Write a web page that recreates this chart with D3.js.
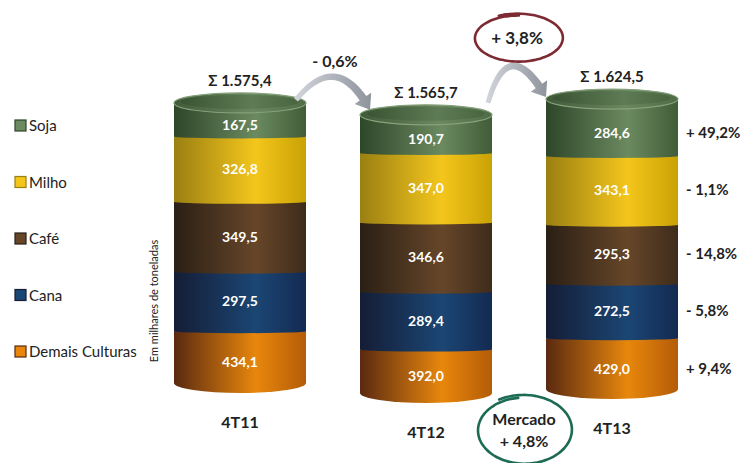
<!DOCTYPE html>
<html>
<head>
<meta charset="utf-8">
<script src="https://cdn.jsdelivr.net/npm/d3@7"></script>
<style>
  body { margin: 0; background: #fff; }
  text { font-family: Lato, "Open Sans", sans-serif; }
</style>
</head>
<body>
<svg id="chart"></svg>
<script>
// data, bottom of the stack first
var periods = ["4T11", "4T12", "4T13"];
var crops = ["Demais Culturas", "Cana", "Café", "Milho", "Soja"];
var demais = [434.1, 392.0, 429.0];
var cana = [297.5, 289.4, 272.5];
var cafe = [349.5, 346.6, 295.3];
var milho = [326.8, 347.0, 343.1];
var soja = [167.5, 190.7, 284.6];
var mercadoLabel = ["Mercado", "+ 4,8%"];
var yTitle = "Em milhares de toneladas";

var width = 745,
    height = 463;

var cylW = 132, rx = cylW / 2, ry = 10;
// small vertical nudges of each cylinder, as in the slide
var shift = [-6, 4, 0];

var colors = {
    "Soja":            ["#2e4629", "#6b8a60", "#405c38"],
    "Milho":           ["#9a7f12", "#f4c61c", "#c9a204"],
    "Café":            ["#2a1f15", "#664629", "#3e2c1b"],
    "Cana":            ["#141d35", "#1b4674", "#132a52"],
    "Demais Culturas": ["#5a2911", "#e8870c", "#b45c08"]
};

var series = { "Demais Culturas": demais, "Cana": cana, "Café": cafe, "Milho": milho, "Soja": soja };
var rows = periods.map(function(p, i) {
    var r = { period: p };
    crops.forEach(function(c) { r[c] = series[c][i]; });
    return r;
});
var stacked = d3.stack().keys(crops)(rows);
var totals = rows.map(function(r) { return d3.sum(crops, function(c) { return r[c]; }); });

var br = d3.formatLocale({ decimal: ",", thousands: ".", grouping: [3], currency: ["R$", ""] });
var fmt1 = br.format(",.1f");
function pct(a, b) {
    var v = (b / a - 1) * 100;
    return (v >= 0 ? "+ " : "- ") + br.format(".1f")(Math.abs(v)) + "%";
}

var svg = d3.select("svg#chart")
    .attr("width", width)
    .attr("height", height);

var x = d3.scalePoint().domain(periods).range([240, 612]);
var y = d3.scaleLinear().domain([175, 1650]).range([389, 94]).clamp(true);
function yy(v, i) { return y(v) + shift[i]; }

var defs = svg.append("defs");
crops.forEach(function(c, k) {
    var g = defs.append("linearGradient").attr("id", "g" + k);
    g.append("stop").attr("offset", "0").attr("stop-color", colors[c][0]);
    g.append("stop").attr("offset", "0.62").attr("stop-color", colors[c][1]);
    g.append("stop").attr("offset", "1").attr("stop-color", colors[c][2]);
});
var gt = defs.append("linearGradient").attr("id", "gtop");
gt.append("stop").attr("offset", "0").attr("stop-color", "#3f5a38");
gt.append("stop").attr("offset", "0.6").attr("stop-color", "#6a8860");
gt.append("stop").attr("offset", "1").attr("stop-color", "#4f6c47");
var gi = defs.append("linearGradient").attr("id", "gtopin");
gi.append("stop").attr("offset", "0").attr("stop-color", "#3a5433");
gi.append("stop").attr("offset", "0.6").attr("stop-color", "#5d7b54");
gi.append("stop").attr("offset", "1").attr("stop-color", "#48653f");
var ga = defs.append("linearGradient").attr("id", "garrow");
ga.append("stop").attr("offset", "0").attr("stop-color", "#d3d6dc");
ga.append("stop").attr("offset", "1").attr("stop-color", "#8e939c");

// cylinders
var layer = svg.selectAll("g.layer")
    .data(stacked)
    .enter()
    .append("g")
    .attr("class", "layer");

layer.selectAll("path")
    .data(function(s) { return s.map(function(d, i) { return { d: d, i: i, k: s.index }; }); })
    .enter()
    .append("path")
    .attr("d", function(o) {
        var cx = x(periods[o.i]), y0 = yy(o.d[0], o.i), y1 = yy(o.d[1], o.i);
        var rb = o.k === 0 ? ry : 2;
        return "M" + (cx - rx) + "," + y1 + "L" + (cx + rx) + "," + y1 +
            "L" + (cx + rx) + "," + y0 + "A" + rx + "," + rb + " 0 0 1 " + (cx - rx) + "," + y0 + "Z";
    })
    .attr("fill", function(o) { return "url(#g" + o.k + ")"; });

layer.selectAll("text")
    .data(function(s) { return s.map(function(d, i) { return { d: d, i: i, k: s.index }; }); })
    .enter()
    .append("text")
    .attr("x", function(o) { return x(periods[o.i]); })
    .attr("y", function(o) {
        var y0 = yy(o.d[0], o.i), y1 = yy(o.d[1], o.i);
        if (o.k === 0) y0 += ry;
        if (o.k === crops.length - 1) y1 += ry;
        return (y0 + y1) / 2 + 5;
    })
    .attr("text-anchor", "middle")
    .attr("fill", "#fff")
    .attr("font-size", 14)
    .attr("font-weight", "bold")
    .text(function(o) { return fmt1(o.d[1] - o.d[0]); });

// top faces
svg.selectAll("ellipse.top")
    .data(totals)
    .enter()
    .append("ellipse")
    .attr("class", "top")
    .attr("cx", function(d, i) { return x(periods[i]); })
    .attr("cy", function(d, i) { return yy(d, i); })
    .attr("rx", rx)
    .attr("ry", ry)
    .attr("fill", "url(#gtop)")
    .attr("stroke", "#86a17b")
    .attr("stroke-width", 1.2);

svg.selectAll("ellipse.topin")
    .data(totals)
    .enter()
    .append("ellipse")
    .attr("class", "topin")
    .attr("cx", function(d, i) { return x(periods[i]); })
    .attr("cy", function(d, i) { return yy(d, i) - 1; })
    .attr("rx", rx - 7)
    .attr("ry", ry - 3)
    .attr("fill", "url(#gtopin)");

// totals
svg.selectAll("text.total")
    .data(totals)
    .enter()
    .append("text")
    .attr("class", "total")
    .attr("x", function(d, i) { return x(periods[i]); })
    .attr("y", function(d, i) { return yy(d, i) - ry - 7; })
    .attr("text-anchor", "middle")
    .attr("font-size", 15)
    .attr("font-weight", "bold")
    .attr("fill", "#222")
    .text(function(d) { return "Σ " + fmt1(d); });

// period labels
svg.selectAll("text.period")
    .data(periods)
    .enter()
    .append("text")
    .attr("class", "period")
    .attr("x", function(d) { return x(d); })
    .attr("y", function(d, i) { return yy(0, i) + ry + 35; })
    .attr("text-anchor", "middle")
    .attr("font-size", 16)
    .attr("font-weight", "bold")
    .attr("fill", "#222")
    .text(function(d) { return d; });

// growth 4T13 vs 4T12 per crop
var last = periods.length - 1;
svg.selectAll("text.chg")
    .data(stacked)
    .enter()
    .append("text")
    .attr("class", "chg")
    .attr("x", x(periods[last]) + rx + 8)
    .attr("y", function(s) {
        var d = s[last], y0 = yy(d[0], last), y1 = yy(d[1], last);
        if (s.index === 0) y0 += ry;
        if (s.index === crops.length - 1) y1 += ry;
        return (y0 + y1) / 2 + 5;
    })
    .attr("font-size", 15)
    .attr("font-weight", "bold")
    .attr("fill", "#222")
    .text(function(s) { return pct(s[last - 1][1] - s[last - 1][0], s[last][1] - s[last][0]); });

// legend
var ly = d3.scalePoint().domain(crops.slice().reverse()).range([126, 352]);
var leg = svg.selectAll("g.leg")
    .data(crops)
    .enter()
    .append("g")
    .attr("class", "leg")
    .attr("transform", function(d) { return "translate(15," + ly(d) + ")"; });
leg.append("rect")
    .attr("x", 0).attr("y", -6)
    .attr("width", 11).attr("height", 11)
    .attr("fill", function(d) { return colors[d][1]; })
    .attr("stroke", function(d) { return colors[d][0]; })
    .attr("stroke-width", 1.2);
leg.append("text")
    .attr("x", 14)
    .attr("y", 5)
    .attr("font-size", 15)
    .attr("fill", "#222")
    .text(function(d) { return d; });

svg.append("text")
    .attr("transform", "translate(158,301) rotate(-90)")
    .attr("text-anchor", "middle")
    .attr("font-size", 11)
    .attr("fill", "#222")
    .text(yTitle);

// curved arrows
function qp(p0, c, p1, t) {
    var u = 1 - t;
    return [u * u * p0[0] + 2 * u * t * c[0] + t * t * p1[0], u * u * p0[1] + 2 * u * t * c[1] + t * t * p1[1]];
}
function qt(p0, c, p1, t) {
    var u = 1 - t;
    var dx = 2 * u * (c[0] - p0[0]) + 2 * t * (p1[0] - c[0]),
        dy = 2 * u * (c[1] - p0[1]) + 2 * t * (p1[1] - c[1]);
    var l = Math.sqrt(dx * dx + dy * dy);
    return [dx / l, dy / l];
}
function arrow(p0, c, p1) {
    var headLen = 13, hw = 10, w0 = 5, w1 = 8, N = 30;
    var tH = 1;
    while (tH > 0) {
        var q = qp(p0, c, p1, tH);
        if (Math.hypot(q[0] - p1[0], q[1] - p1[1]) >= headLen) break;
        tH -= 0.005;
    }
    var left = [], right = [];
    for (var i = 0; i <= N; i++) {
        var t = tH * i / N, p = qp(p0, c, p1, t), tg = qt(p0, c, p1, t);
        var n = [-tg[1], tg[0]], w = (w0 + (w1 - w0) * i / N) / 2;
        left.push([p[0] + n[0] * w, p[1] + n[1] * w]);
        right.push([p[0] - n[0] * w, p[1] - n[1] * w]);
    }
    var b = qp(p0, c, p1, tH), tb = qt(p0, c, p1, tH), nb = [-tb[1], tb[0]];
    var pts = left.concat([[b[0] + nb[0] * hw, b[1] + nb[1] * hw], p1, [b[0] - nb[0] * hw, b[1] - nb[1] * hw]])
        .concat(right.reverse());
    svg.append("path")
        .attr("d", d3.line()(pts) + "Z")
        .attr("fill", "url(#garrow)");
}

var tops = totals.map(function(d, i) { return yy(d, i); });
var m01 = Math.min(tops[0], tops[1]), m12 = Math.min(tops[1], tops[2]);

arrow([x(periods[0]) + 56, tops[0] - 3],
      [(x(periods[0]) + x(periods[1])) / 2 + 4, m01 - 54],
      [x(periods[1]) - 56, tops[1] - 5]);
svg.append("text")
    .attr("x", (x(periods[0]) + x(periods[1])) / 2 + 2)
    .attr("y", m01 - 36)
    .attr("text-anchor", "middle")
    .attr("font-size", 16)
    .attr("font-weight", "bold")
    .attr("fill", "#222")
    .text(pct(totals[0], totals[1]));

arrow([x(periods[1]) + 62, tops[1] - 12],
      [x(periods[1]) + 82, m12 - 67],
      [x(periods[2]) - 66, tops[2] - 2]);

function sketchEllipse(cx, cy, ex, ey, a0, sweep, color) {
    var pts = d3.range(0, 1.0001, 1 / 80).map(function(f) {
        var a = a0 + sweep * f, k = 1.07 - 0.09 * f;
        return [cx + ex * k * Math.cos(a), cy + ey * k * Math.sin(a)];
    });
    svg.append("path")
        .attr("d", d3.line().curve(d3.curveCatmullRom)(pts))
        .attr("fill", "none")
        .attr("stroke", color)
        .attr("stroke-width", 2.6)
        .attr("stroke-linecap", "round");
}

var c2 = x(periods[1]) + 92;
sketchEllipse(c2, m12 - 61, 43, 23, -2.0, Math.PI * 2 + 0.45, "#7d2a33");
svg.append("text")
    .attr("x", c2 - 1)
    .attr("y", m12 - 55)
    .attr("text-anchor", "middle")
    .attr("font-size", 17)
    .attr("font-weight", "bold")
    .attr("fill", "#222")
    .text(pct(totals[1], totals[2]));

// market
var mx = (x(periods[1]) + x(periods[2])) / 2 + 5;
sketchEllipse(mx, 430, 46, 33, -2.1, Math.PI * 2 + 0.4, "#1d6b55");
svg.selectAll("text.mkt")
    .data(mercadoLabel)
    .enter()
    .append("text")
    .attr("class", "mkt")
    .attr("x", mx)
    .attr("y", function(d, i) { return 425 + i * 22; })
    .attr("text-anchor", "middle")
    .attr("font-size", 16)
    .attr("font-weight", "bold")
    .attr("fill", "#222")
    .text(function(d) { return d; });
</script>
</body>
</html>
